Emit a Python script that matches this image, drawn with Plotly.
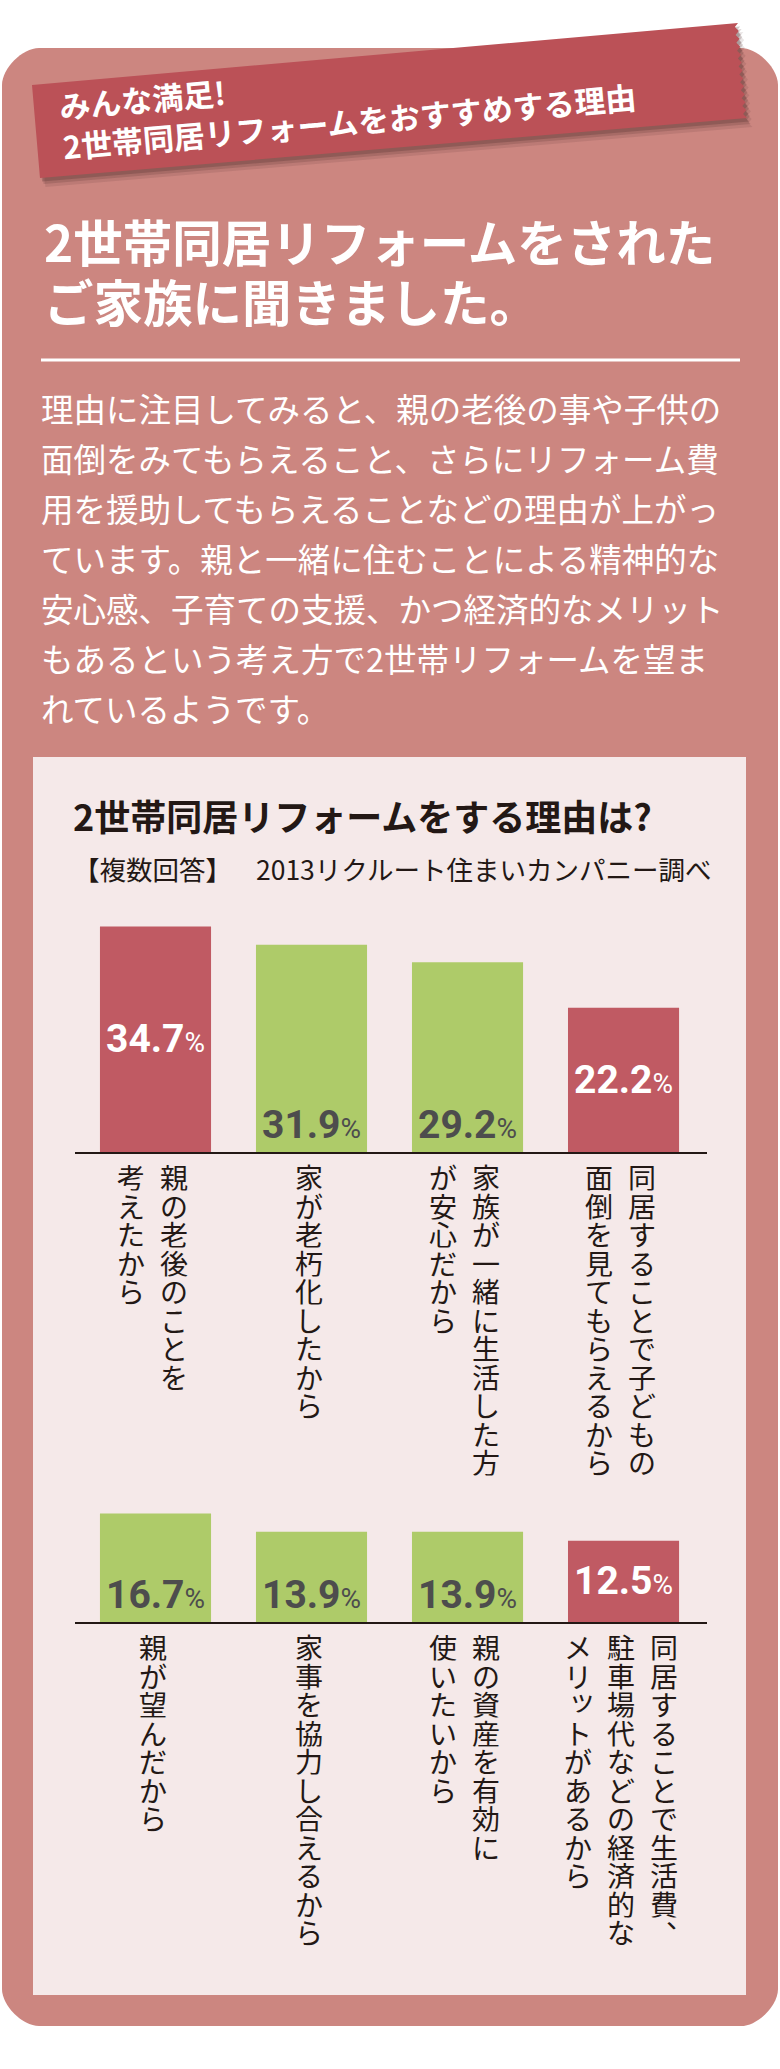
import plotly.graph_objects as go

W, H = 780, 2069

ribbon_lines = ["みんな満足!", "2世帯同居リフォームをおすすめする理由"]
title_lines = ["2世帯同居リフォームをされた", "ご家族に聞きました。"]
body_lines = [
    "理由に注目してみると、親の老後の事や子供の",
    "面倒をみてもらえること、さらにリフォーム費",
    "用を援助してもらえることなどの理由が上がっ",
    "ています。親と一緒に住むことによる精神的な",
    "安心感、子育ての支援、かつ経済的なメリット",
    "もあるという考え方で2世帯リフォームを望ま",
    "れているようです。",
]
chart_title = "2世帯同居リフォームをする理由は?"
note_left = "【複数回答】"
note_right = "2013リクルート住まいカンパニー調べ"

# "|" marks a new vertical column (columns run right to left)
top_labels = ["親の老後のことを|考えたから", "家が老朽化したから",
              "家族が一緒に生活した方|が安心だから", "同居することで子どもの|面倒を見てもらえるから"]
top_values = [34.7, 31.9, 29.2, 22.2]
top_highlight = [True, False, False, True]

bottom_labels = ["親が望んだから", "家事を協力し合えるから",
                 "親の資産を有効に|使いたいから",
                 "同居することで生活費、|駐車場代などの経済的な|メリットがあるから"]
bottom_values = [16.7, 13.9, 13.9, 12.5]
bottom_highlight = [False, False, False, True]

OUTER = "#CC8680"
INNER = "#F5E9E9"
RIBBON = "#BB5157"
RED = "#C05A63"
GREEN = "#AECB69"
DARK = "#231815"
GRAY = "#4D4D4D"
JP = "'Noto Sans CJK JP', 'Noto Sans', sans-serif"
NUM = "Roboto, 'Liberation Sans', sans-serif"


def px(x):
    return x / W


def py(y):
    return 1 - y / H


def pt(x, y):
    return f"{px(x):.5f},{py(y):.5f}"


def rrect(x0, y0, x1, y1, r):
    k = r * 0.45
    return (f"M{pt(x0 + r, y0)} L{pt(x1 - r, y0)} C{pt(x1 - r + k, y0)} {pt(x1, y0 + r - k)} {pt(x1, y0 + r)} "
            f"L{pt(x1, y1 - r)} C{pt(x1, y1 - r + k)} {pt(x1 - r + k, y1)} {pt(x1 - r, y1)} "
            f"L{pt(x0 + r, y1)} C{pt(x0 + r - k, y1)} {pt(x0, y1 - r + k)} {pt(x0, y1 - r)} "
            f"L{pt(x0, y0 + r)} C{pt(x0, y0 + r - k)} {pt(x0 + r - k, y0)} {pt(x0 + r, y0)} Z")


def ribbon_path(dx=0, dy=0):
    tl, tr, br, bl = (32, 85), (738, 23), (747, 118), (40, 178)
    pts = [tl, tr]
    n = 24
    for i in range(1, n):
        t = i / n
        x = tr[0] + t * (br[0] - tr[0])
        y = tr[1] + t * (br[1] - tr[1])
        if i % 2:
            x -= 3.5
        pts.append((x, y))
    pts += [br, bl]
    s = "M" + " L".join(pt(x + dx, y + dy) for x, y in pts) + " Z"
    return s


shapes = [
    dict(type="path", path=rrect(2, 48, 778, 2026, 37), fillcolor=OUTER, line_width=0, layer="below",
         xref="paper", yref="paper"),
    dict(type="rect", x0=px(33), x1=px(746), y0=py(1995), y1=py(757), fillcolor=INNER, line_width=0,
         layer="below", xref="paper", yref="paper"),
    dict(type="line", x0=px(41), x1=px(740), y0=py(360), y1=py(360), line=dict(color="white", width=3),
         layer="below", xref="paper", yref="paper"),
]
for off, op in [(9, 0.12), (6, 0.18), (3.5, 0.25)]:
    shapes.append(dict(type="path", path=ribbon_path(off * 0.6, off), fillcolor=f"rgba(70,40,40,{op})",
                       line_width=0, layer="below", xref="paper", yref="paper"))
shapes.append(dict(type="path", path=ribbon_path(), fillcolor=RIBBON, line_width=0, layer="below",
                   xref="paper", yref="paper"))

annotations = []


def text_ann(x, y, text, size, color, weight="normal", **kw):
    d = dict(x=px(x), y=py(y), xref="paper", yref="paper", text=text, showarrow=False,
             xanchor="left", yanchor="middle", borderpad=0,
             font=dict(family=JP, size=size, color=color, weight=weight))
    d.update(kw)
    annotations.append(d)


text_ann(347, 101, "<br>".join(ribbon_lines), 31, "white", "bold", xanchor="center", align="left",
         textangle=-5)
for i, line in enumerate(title_lines):
    text_ann(43, 240 + 60 * i, line, 49.5, "white", "bold", height=58)
for i, line in enumerate(body_lines):
    text_ann(40, 407 + 50 * i, line, 32.5, "white", height=46)
text_ann(72, 815, chart_title, 36, DARK, "bold")
text_ann(72, 868, note_left, 26.5, DARK)
text_ann(255, 868, note_right, 26.5, DARK)

PITCH = 28.5
GAP = 11
COLSTEP = 43
CHAR_SIZE = 28


def chart_parts(labels, values, highlight, xr, yr):
    bar = go.Bar(x=labels, y=values, xaxis=xr, yaxis=yr, showlegend=False, hoverinfo="skip",
                 marker=dict(color=[RED if h else GREEN for h in highlight], line_width=0))
    for lab, v, h in zip(labels, values, highlight):
        txt = f"<b>{v:.1f}</b><span style='font-size:28px'>%</span>"
        d = dict(x=lab, xref=xr, yref=yr, text=txt, showarrow=False, xanchor="center",
                 font=dict(family=NUM, size=39, color="white" if h else GRAY))
        if h:
            d.update(y=v / 2, yanchor="middle")
        else:
            d.update(y=0, yanchor="bottom", yshift=2)
        annotations.append(d)
        cols = lab.split("|")
        n = len(cols)
        for k, col in enumerate(cols):
            dx = -3 + ((n - 1) / 2 - k) * COLSTEP
            for i, ch in enumerate(col):
                sx, sy = 0, 0
                if ch in "、。":
                    sx, sy = 16, 16
                elif ch in "ッっォャュョ":
                    sx, sy = 4, 5
                annotations.append(dict(x=lab, y=0, xref=xr, yref=yr, text=ch, showarrow=False,
                                        xanchor="center", yanchor="middle", xshift=dx + sx,
                                        yshift=-(GAP + PITCH * (i + 0.5)) + sy,
                                        height=PITCH - 1, borderpad=0,
                                        font=dict(family=JP, size=CHAR_SIZE, color=DARK)))
    return bar


fig = go.Figure()
fig.add_trace(chart_parts(top_labels, top_values, top_highlight, "x", "y"))
fig.add_trace(chart_parts(bottom_labels, bottom_values, bottom_highlight, "x2", "y2"))

xaxis_style = dict(domain=[px(75), px(707)], range=[-0.516, 3.535], type="category", showline=True,
                   linecolor=DARK, linewidth=2, showticklabels=False, ticks="", showgrid=False,
                   zeroline=False, fixedrange=True)
fig.update_layout(
    width=W, height=H, margin=dict(l=0, r=0, t=0, b=0),
    paper_bgcolor="white", plot_bgcolor="rgba(0,0,0,0)", bargap=0.288,
    xaxis=dict(xaxis_style, anchor="y"),
    yaxis=dict(domain=[py(1152), py(892)], range=[0, 40], visible=False, fixedrange=True),
    xaxis2=dict(xaxis_style, anchor="y2"),
    yaxis2=dict(domain=[py(1622), py(1362)], range=[0, 40], visible=False, fixedrange=True),
    shapes=shapes, annotations=annotations, showlegend=False,
)

fig.write_html("out.html", config={"displayModeBar": False},
               post_script="document.body.style.margin='0px';")
